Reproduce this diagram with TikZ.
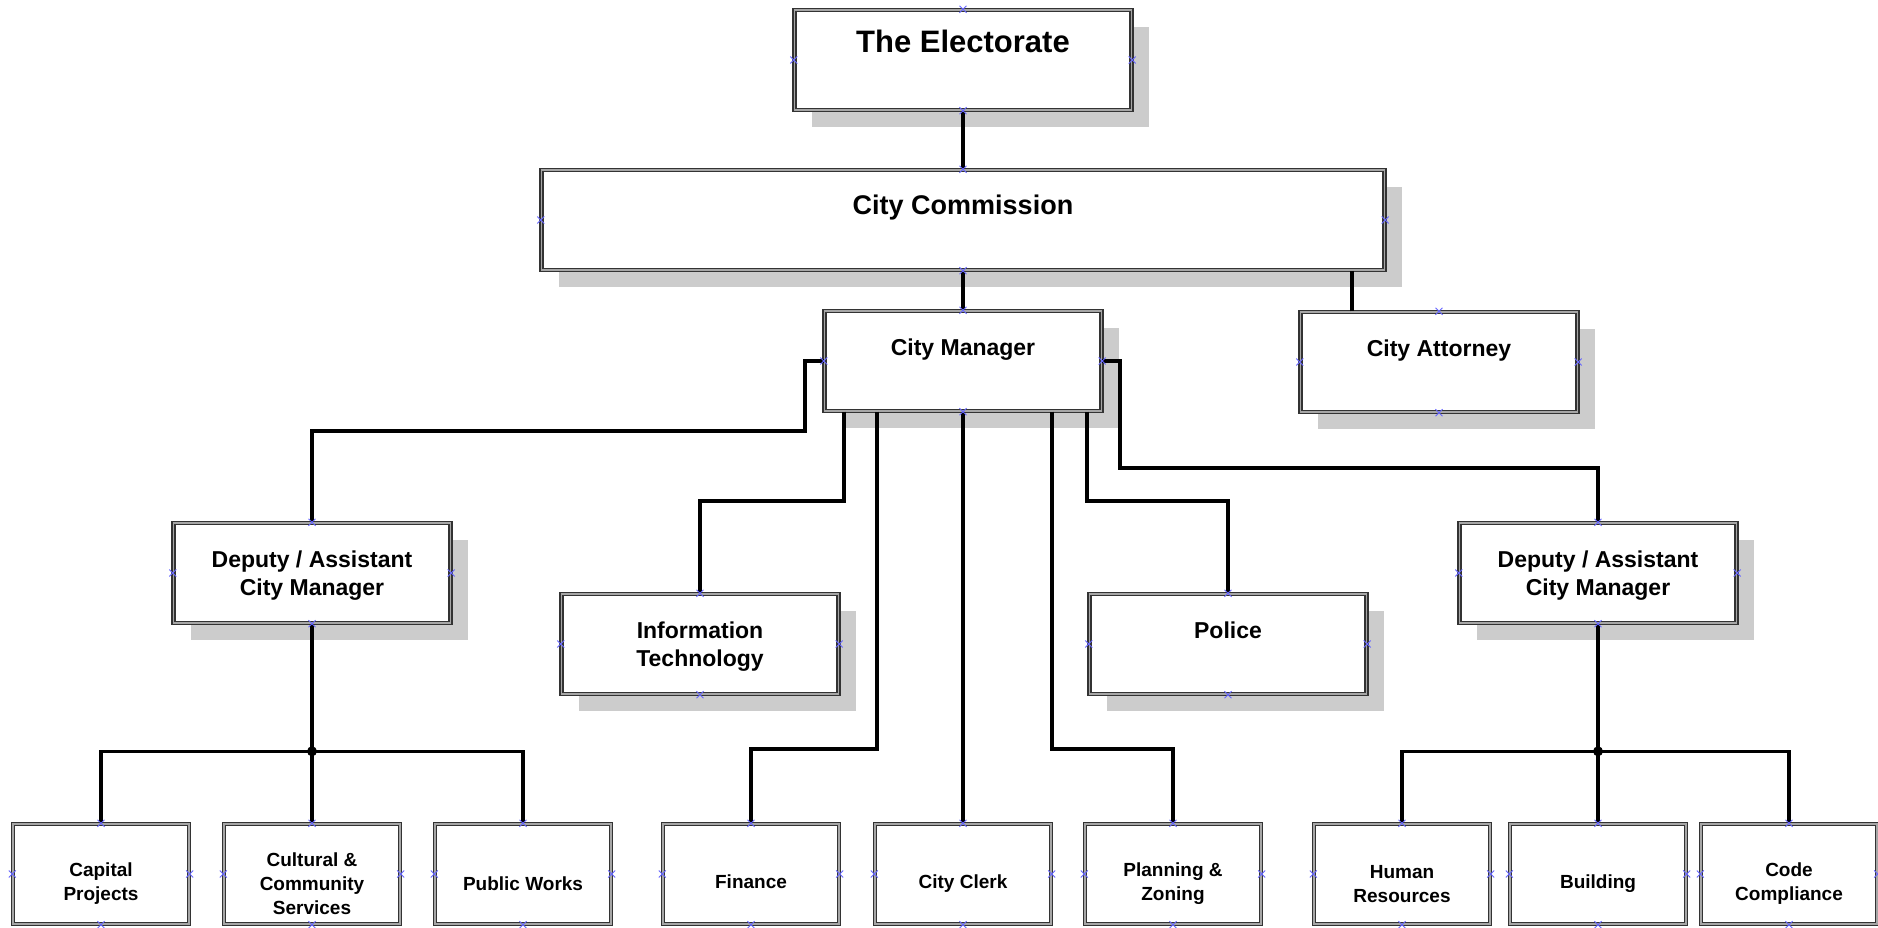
\documentclass[tikz,border=0pt]{standalone}
\usepackage{fontspec}
\setmainfont{Liberation Sans}
\usetikzlibrary{positioning, shadows}

\begin{document}
\begin{tikzpicture}[x=1pt, y=-1pt,
	unitbox/.style={rectangle, draw=black!80, line width=1.4pt, double=black!35, double distance=1.8pt, fill=white, inner sep=0pt},
	shadowed/.style={drop shadow={shadow xshift=17pt, shadow yshift=-17pt, fill=black!20, opacity=1}},
	topbox/.style={unitbox, shadowed, minimum height=100pt},
	midbox/.style={unitbox, shadowed, minimum width=277pt, minimum height=100pt},
	leafbox/.style={unitbox, minimum width=176pt, minimum height=100pt},
	bigtext/.style={inner sep=0pt, font=\fontsize{31}{36}\selectfont\bfseries},
	commtext/.style={inner sep=0pt, font=\fontsize{27}{32}\selectfont\bfseries},
	midtext/.style={inner sep=0pt, align=center, font=\fontsize{23}{28}\selectfont\bfseries},
	leaftext/.style={inner sep=0pt, align=center, font=\fontsize{19}{24}\selectfont\bfseries},
	link/.style={line width=3.6pt},
	cpoint/.style={blue!60, line width=0.9pt}]

	\useasboundingbox (0,0) rectangle (1878,927);

	% top levels
	\node[topbox, minimum width=337pt] (elec) at (963,60) {};
	\node[bigtext, below=21pt of elec.north] (elect) {The Electorate};
	\node[topbox, minimum width=843pt] (comm) at (963,220) {};
	\node[commtext, below=25pt of comm.north] (commt) {City Commission};

	\node[midbox] (cm) at (963,361) {};
	\node[midtext, below=28pt of cm.north] (cmt) {City Manager};
	\node[midbox] (att) at (1439,362) {};
	\node[midtext, below=28pt of att.north] (attt) {City Attorney};

	\node[midbox] (depl) at (312,573) {};
	\node[midtext, below=28pt of depl.north] (deplt) {Deputy / Assistant\\City Manager};
	\node[midbox] (it) at (700,644) {};
	\node[midtext, below=28pt of it.north] (itt) {Information\\Technology};
	\node[midbox] (pol) at (1228,644) {};
	\node[midtext, below=28pt of pol.north] (polt) {Police};
	\node[midbox] (depr) at (1598,573) {};
	\node[midtext, below=28pt of depr.north] (deprt) {Deputy / Assistant\\City Manager};

	% departments
	\node[leafbox] (cap) at (101,874) {};
	\node[leaftext] (capt) at ([yshift=-10pt]cap.center) {Capital\\Projects};
	\node[leafbox] (cul) at (312,874) {};
	\node[leaftext] (cult) at ([yshift=-10pt]cul.center) {Cultural \&\\Community\\Services};
	\node[leafbox] (pw) at (523,874) {};
	\node[leaftext] (pwt) at ([yshift=-10pt]pw.center) {Public Works};
	\node[leafbox] (fin) at (751,874) {};
	\node[leaftext, text depth=5pt] (fint) at ([yshift=-10pt]fin.center) {Finance};
	\node[leafbox] (clerk) at (963,874) {};
	\node[leaftext, text depth=5pt] (clerkt) at ([yshift=-10pt]clerk.center) {City Clerk};
	\node[leafbox] (plan) at (1173,874) {};
	\node[leaftext] (plant) at ([yshift=-10pt]plan.center) {Planning \&\\Zoning};
	\node[leafbox] (hr) at (1402,874) {};
	\node[leaftext] (hrt) at ([yshift=-10pt]hr.center) {Human\\Resources};
	\node[leafbox] (bld) at (1598,874) {};
	\node[leaftext, text depth=5pt] (bldt) at ([yshift=-10pt]bld.center) {Building};
	\node[leafbox] (code) at (1789,874) {};
	\node[leaftext] (codet) at ([yshift=-10pt]code.center) {Code\\Compliance};

	% connectors
	\draw[link] (elec.south) -- (comm.north);
	\draw[link] (comm.south) -- (cm.north);
	\draw[link] ([xshift=-87pt]att.north) -- ([xshift=-87pt]att.north |- comm.south);
	\draw[link] (cm.west) -- ++(-19,0) -- ++(0,70) -| (depl.north);
	\draw[link] (cm.east) -- ++(18,0) -- ++(0,107) -| (depr.north);
	\draw[link] ([xshift=-119pt]cm.south) -- ++(0,89) -| (it.north);
	\draw[link] ([xshift=-86pt]cm.south) -- ++(0,337) -| (fin.north);
	\draw[link] (cm.south) -- (clerk.north);
	\draw[link] ([xshift=89pt]cm.south) -- ++(0,337) -| (plan.north);
	\draw[link] ([xshift=124pt]cm.south) -- ++(0,89) -| (pol.north);

	\draw[link] (depl.south) -- (cul.north);
	\draw[link] (cap.north) -- ++(0,-72) -| (pw.north);
	\fill ([yshift=72pt]cul.north) circle (5pt);
	\draw[link] (depr.south) -- (bld.north);
	\draw[link] (hr.north) -- ++(0,-72) -| (code.north);
	\fill ([yshift=72pt]bld.north) circle (5pt);

	% connection points
	\foreach \n in {elec, comm, cm, att, depl, it, pol, depr, cap, cul, pw, fin, clerk, plan, hr, bld, code}
	\foreach \a in {north, south, east, west}
	{
	\draw[cpoint] (\n.\a) ++(-3.5,-3.5) -- ++(7,7) ++(-7,0) -- ++(7,-7);
	}

\end{tikzpicture}
\end{document}
